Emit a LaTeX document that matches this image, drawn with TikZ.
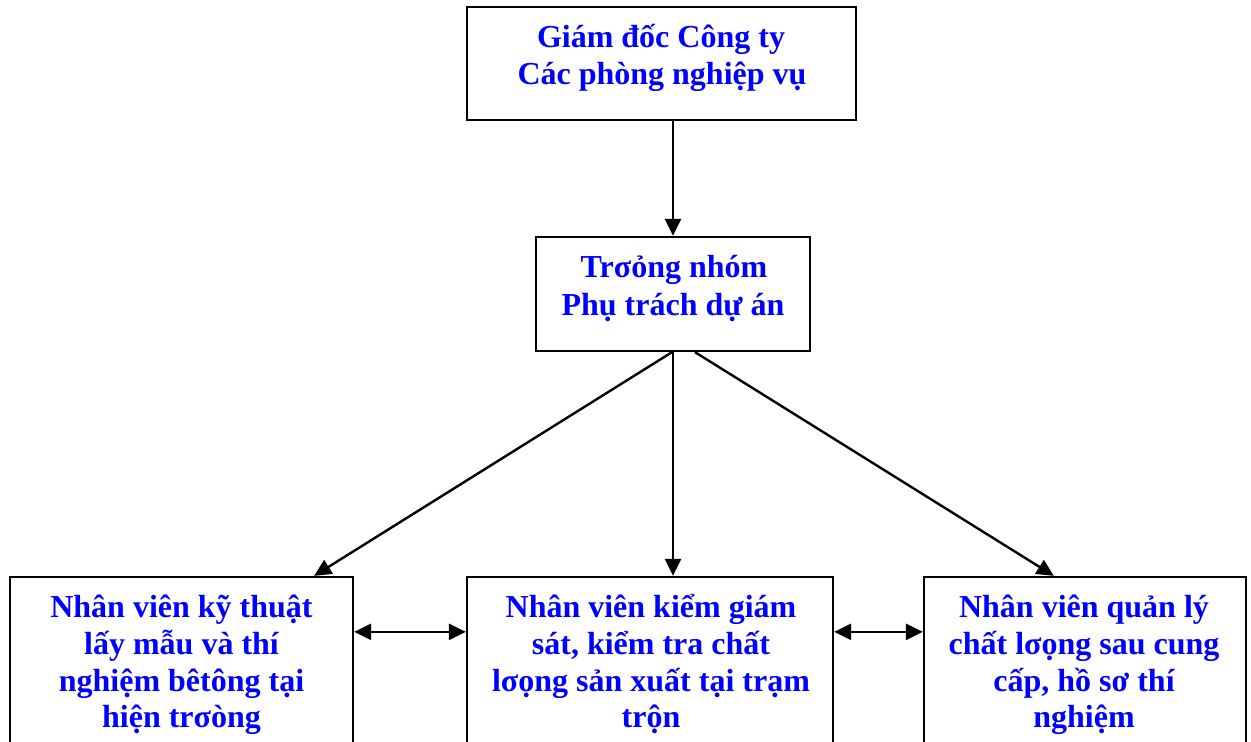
\documentclass[tikz,border=0pt]{standalone}
\usepackage{fontspec}
\setmainfont{Liberation Serif}
\usetikzlibrary{arrows.meta}
\definecolor{textblue}{RGB}{0,0,255}
\begin{document}
\begin{tikzpicture}[x=1pt,y=-1pt,
  box/.style={draw=black,line width=2.3pt,inner sep=0pt,fill=none},
  txt/.style={anchor=base,inner sep=0pt,text=textblue,font=\bfseries\fontsize{32}{37}\selectfont},
  conn/.style={line width=2.4pt,-{Triangle[length=17pt,width=16pt]}},
  dconn/.style={line width=2.4pt,{Triangle[length=17pt,width=16pt]}-{Triangle[length=17pt,width=16pt]}}]
\useasboundingbox (0,0) rectangle (1251,742);
% boxes
\node[box,minimum width=389pt,minimum height=113pt] (top) at (661.5,63.5) {};
\node[box,minimum width=274pt,minimum height=114pt] (mid) at (673,294) {};
\node[box,minimum width=343pt,minimum height=223pt] (bleft) at (181.5,688.5) {};
\node[box,minimum width=366pt,minimum height=223pt] (bmid) at (650,688.5) {};
\node[box,minimum width=322pt,minimum height=223pt] (bright) at (1085,688.5) {};
% texts
\node[txt] (t1) at (661,47) {Giám đốc Công ty};
\node[txt] (t2) at (662,84) {Các phòng nghiệp vụ};
\node[txt] (m1) at (674,277) {Trσỏng nhóm};
\node[txt] (m2) at (673,315) {Phụ trách dự án};
\node[txt] (l1) at (181.5,617) {Nhân viên kỹ thuật};
\node[txt] (l2) at (181.5,654) {lấy mẫu và thí};
\node[txt] (l3) at (181.5,691) {nghiệm bêtông tại};
\node[txt] (l4) at (181.5,727) {hiện trσòng};
\node[txt] (c1) at (651,617) {Nhân viên kiểm giám};
\node[txt] (c2) at (651,654) {sát, kiểm tra chất};
\node[txt] (c3) at (651,691) {lσọng sản xuất tại trạm};
\node[txt] (c4) at (651,727) {trộn};
\node[txt] (r1) at (1084,617) {Nhân viên quản lý};
\node[txt] (r2) at (1084,654) {chất lσọng sau cung};
\node[txt] (r3) at (1084,691) {cấp, hồ sơ thí};
\node[txt] (r4) at (1084,727) {nghiệm};
% connectors
\draw[conn] (top.south -| mid.north) -- (mid.north);
\draw[conn] (mid.south) -- (mid.south |- bmid.north);
\draw[conn] ([xshift=-1pt]mid.south) -- ([xshift=-40pt]bleft.north east);
\draw[conn] ([xshift=22pt]mid.south) -- ([xshift=131pt]bright.north west);
\draw[dconn] ([yshift=-56pt]bleft.north east) -- ([yshift=-56pt]bmid.north west);
\draw[dconn] ([yshift=-56pt]bmid.north east) -- ([yshift=-56pt]bright.north west);
\end{tikzpicture}
\end{document}
